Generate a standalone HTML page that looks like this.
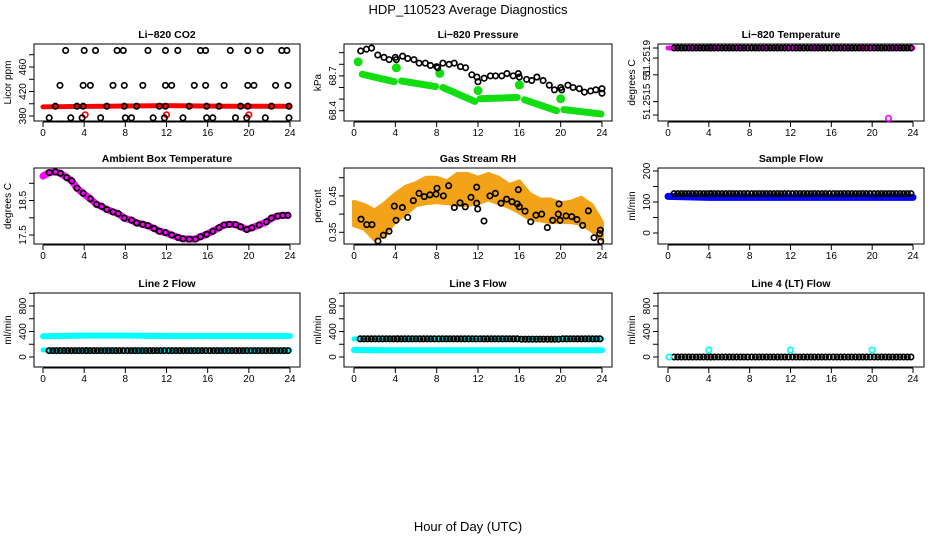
<!DOCTYPE html>
<html><head><meta charset="utf-8"><style>
html,body{margin:0;padding:0;background:#fff;}
svg{display:block;font-family:"Liberation Sans",Arial,sans-serif;}
</style></head><body>
<svg id="chart" width="936" height="540" viewBox="0 0 936 540" xmlns="http://www.w3.org/2000/svg">
<text x="468" y="14" font-size="13" text-anchor="middle">HDP_110523  Average Diagnostics</text>
<text x="468" y="531" font-size="13" text-anchor="middle">Hour of Day (UTC)</text>
</svg>
<script>
// ---------- data ----------
const xTicks = [0,4,8,12,16,20,24];
const blockStarts = [0,4,8,12,16,20];
const co2Hours = [2.2,4.0,5.1,7.2,7.8,10.2,11.9,13.1,15.3,15.8,18.2,19.9,21.1,23.2,23.7,
 1.65,3.9,4.6,6.8,7.9,9.7,11.9,12.5,14.7,15.8,17.6,19.9,20.5,22.6,23.8,
 1.2,3.3,3.9,6.2,7.9,9.1,11.3,11.9,14.2,15.9,17.1,19.2,19.9,22.2,23.9,
 0.6,2.7,3.8,5.6,8.0,8.6,10.7,11.8,13.6,15.9,16.5,18.7,19.8,21.6,23.9];
const co2Values = [487,487,487,487,487,487,487,487,487,487,487,487,487,487,487,
 430,430,430,430,430,430,430,430,430,430,430,430,430,430,430,
 396,396,396,396,396,396,396,396,396,396,396,396,396,396,396,
 377,377,377,377,377,377,377,377,377,377,377,377,377,377,377];
const co2RedHours = [0,6,12,18,24];
const co2RedValues = [395,396,397,396,396];
const co2RedPtHours = [4.1,12.0,20.0];
const co2RedPtValues = [382,382,382];
const presHours = [0.65,1.2,1.7,2.3,2.9,3.4,4.0,4.1,4.7,5.2,5.8,6.3,6.9,7.4,8.0,8.1,8.6,9.2,9.7,10.3,10.8,11.4,11.9,12.0,12.6,13.2,13.7,14.3,14.8,15.4,15.9,16.0,16.7,17.2,17.7,18.3,18.9,19.4,20.0,20.1,20.7,21.2,21.8,22.3,22.9,23.4,24.0,24.0];
const presValues = [68.915,68.93,68.94,68.88,68.86,68.84,68.86,68.84,68.87,68.85,68.84,68.81,68.81,68.79,68.78,68.77,68.81,68.80,68.81,68.78,68.77,68.71,68.69,68.65,68.68,68.70,68.70,68.70,68.72,68.70,68.72,68.69,68.67,68.66,68.69,68.66,68.62,68.58,68.60,68.58,68.62,68.60,68.59,68.56,68.57,68.58,68.59,68.55];
const greenSegStart = [0.8,4.6,8.6,12.2,16.5,20.3];
const greenSegEnd = [3.9,7.9,11.7,15.8,19.6,23.9];
const greenValStart = [68.714,68.656,68.600,68.503,68.494,68.409];
const greenValEnd = [68.650,68.608,68.480,68.514,68.400,68.372];
const greenBlobHours = [0.4,4.1,8.3,12.0,16.0,20.0];
const greenBlobValues = [68.821,68.770,68.722,68.574,68.622,68.503];
const t820Block = [51.2519,51.2519,51.2519,51.2519,51.2519,51.2519];
const t820OutlierHour = [21.6];
const t820OutlierValue = [51.25148];
const t820TickVals = [51.2519,51.25184,51.25174,51.25158,51.2515];
const t820TickLabels = ["","51.2519","51","51.2515",""];
const ambHours = [0.6,1.2,1.7,2.3,2.8,3.3,3.9,4.6,5.2,5.7,6.2,6.8,7.3,7.9,8.6,9.1,9.7,10.2,10.8,11.3,11.9,12.5,13.1,13.6,14.2,14.8,15.3,15.9,16.5,17.1,17.6,18.1,18.7,19.2,19.8,20.3,21.0,21.7,22.2,22.8,23.3,23.8];
const ambValues = [19.31,19.33,19.29,19.17,19.07,18.86,18.71,18.55,18.39,18.33,18.24,18.17,18.12,17.99,17.93,17.85,17.81,17.77,17.69,17.61,17.57,17.50,17.43,17.39,17.38,17.38,17.45,17.52,17.61,17.71,17.79,17.81,17.80,17.74,17.66,17.71,17.79,17.88,17.99,18.05,18.07,18.07];
const ambStart = [0,19.21];
const rhBandHours = [0,1,2,3,4,5,6,7,8,9,10,11,12,13,14,15,16,17,18,19,20,21,22,23,24];
const rhUpper = [0.434,0.425,0.41,0.43,0.455,0.475,0.485,0.50,0.50,0.49,0.51,0.51,0.50,0.51,0.50,0.48,0.49,0.455,0.44,0.44,0.43,0.434,0.445,0.425,0.378];
const rhLower = [0.369,0.36,0.33,0.345,0.38,0.40,0.425,0.43,0.433,0.43,0.425,0.425,0.43,0.44,0.43,0.42,0.405,0.387,0.383,0.378,0.378,0.378,0.373,0.355,0.33];
const rhHours = [0.68,1.23,1.74,2.32,2.84,3.39,3.9,4.07,4.68,5.2,5.74,6.29,6.8,7.35,7.94,8.03,8.65,9.16,9.71,10.26,10.77,11.32,11.87,11.87,11.97,12.58,13.16,13.68,14.23,14.77,15.29,15.8,15.9,16.0,16.55,17.1,17.61,18.16,18.71,19.23,19.77,19.84,19.94,20.52,21.07,21.58,22.13,22.68,23.23,23.78,23.84,23.88];
const rhValues = [0.386,0.371,0.371,0.326,0.342,0.353,0.422,0.383,0.418,0.391,0.437,0.457,0.448,0.453,0.455,0.471,0.45,0.478,0.418,0.431,0.42,0.446,0.474,0.43,0.414,0.381,0.45,0.457,0.43,0.441,0.434,0.428,0.467,0.42,0.408,0.379,0.397,0.40,0.363,0.383,0.40,0.428,0.383,0.395,0.393,0.385,0.369,0.409,0.335,0.346,0.356,0.325];
const sampleBlack = [127,127,127,127,127,127];
const sampleBlueHours = [0,4,8,12,16,20,24];
const sampleBlueValues = [118,115,115,115,115,115,115];
const line2Black = [100,100,100,100,100,100];
const line2CyanHigh = [325,335,335,330,330,330,330];
const line2CyanLow = [110,110,110,110,110,110,110];
const line3Black = [285,285,285,285,280,285];
const line3CyanHigh = [285,285,285,285,285,285,285];
const line3CyanLow = [110,105,105,105,105,105,105];
const line4Black = [0,0,0,0,0,0];
const line4CyanHours = [0.1,4.0,12.0,20.0];
const line4CyanValues = [0,110,110,110];
const flowTicks = [0,200,400,600,800,1000];
const flowLabels = ["0","","400","","800",""];

// ---------- layout ----------
const svg = document.getElementById('chart');
const NS = 'http://www.w3.org/2000/svg';
const cols = [{l:34,r:300,x0:43,x1:290},{l:344,r:612,x0:354,x1:602},{l:658,r:924,x0:668,x1:913}];
const rows = [{t:44,b:121},{t:168,b:244},{t:293,b:367}];
function mk(tag, attrs, parent){
  const e = document.createElementNS(NS, tag);
  for (const k in attrs) e.setAttribute(k, attrs[k]);
  (parent||svg).appendChild(e);
  return e;
}
function panel(ci, ri, title, ytitle, v0, y0, v1, y1, yticks, ylabels, name){
  const c = cols[ci], r = rows[ri];
  const g = mk('g', {});
  
  
  const P = {g, c, r,
    sx: h => c.x0 + (c.x1 - c.x0) * h / 24,
    sy: v => y0 + (v - v0) * (y1 - y0) / (v1 - v0)};
  const box = mk('rect', {x:c.l, y:r.t, width:c.r-c.l, height:r.b-r.t, fill:'none', stroke:'#000', 'stroke-width':1}, g);
  
  
  const tt = mk('text', {x:(c.l+c.r)/2, y:r.t-6, 'font-size':10.5, 'font-weight':'bold', 'text-anchor':'middle'}, g);
  tt.textContent = title;
  
  
  const xa = mk('g', {}, g);
  
  
  mk('line', {x1:P.sx(0), x2:P.sx(24), y1:r.b+1, y2:r.b+1, stroke:'#000'}, xa);
  xTicks.forEach(h => {
    mk('line', {x1:P.sx(h), x2:P.sx(h), y1:r.b+1, y2:r.b+6, stroke:'#000'}, xa);
    const lt = mk('text', {x:P.sx(h), y:r.b+15, 'font-size':10, 'text-anchor':'middle'}, xa);
    lt.textContent = h;
    
    
  });
  const ya = mk('g', {}, g);
  
  
  mk('line', {x1:c.l, x2:c.l, y1:P.sy(yticks[0]), y2:P.sy(yticks[yticks.length-1]), stroke:'#000'}, ya);
  yticks.forEach((v,i) => {
    const y = P.sy(v);
    mk('line', {x1:c.l-5, x2:c.l, y1:y, y2:y, stroke:'#000'}, ya);
    if (ylabels[i]) {
      const lt = mk('text', {x:c.l-8, y:y, 'font-size':10, 'text-anchor':'middle', transform:`rotate(-90 ${c.l-8} ${y})`}, ya);
      lt.textContent = ylabels[i];
      
      
    }
  });
  const yc = (r.t + r.b) / 2;
  const yt = mk('text', {x:c.l-23, y:yc, 'font-size':10, 'text-anchor':'middle', transform:`rotate(-90 ${c.l-23} ${yc})`}, g);
  yt.textContent = ytitle;
  
  
  return P;
}
function pt(P, h, v, color, name, fill){
  const e = mk('circle', {cx:P.sx(h), cy:P.sy(v), r:2.7, fill:fill||'none', stroke:color, 'stroke-width':1.7}, P.g);
  
  
  return e;
}
function line(P, hs, vs, color, w, name){
  const e = mk('polyline', {points:hs.map((h,i)=>P.sx(h)+','+P.sy(vs[i])).join(' '), fill:'none', stroke:color, 'stroke-width':w, 'stroke-linecap':'round', 'stroke-linejoin':'round'}, P.g);
  
  
  return e;
}
function denseRow(P, blockVals, color, name, startOffset){
  blockVals.forEach((v,bi) => {
    for (let k = 0; k < 11; k++) {
      const h = blockStarts[bi] + (bi===0 ? startOffset : 0.2) + k*0.36;
      if (h > 24) continue;
      pt(P, h, v, color, name);
    }
  });
}

let P = panel(0,0,'Li\u2212820 CO2','Licor ppm',380,116,460,67,[380,400,420,440,460,480],["380","","420","","460",""],'co2');
line(P, co2RedHours, co2RedValues, '#ff0000', 5, 'co2-red-series');
co2RedPtHours.forEach((h,i) => pt(P, h, co2RedPtValues[i], '#ff0000', 'co2-red-point'));
co2Hours.forEach((h,i) => pt(P, h, co2Values[i], '#000', 'co2-point'));

P = panel(1,0,'Li\u2212820 Pressure','kPa',68.4,110.7,68.9,52.7,[68.4,68.5,68.6,68.7,68.8,68.9],["68.4","","","68.7","",""],'pressure');
greenSegStart.forEach((s,i) => line(P, [s, greenSegEnd[i]], [greenValStart[i], greenValEnd[i]], '#11dd11', 7, 'pressure-green-segment'));
greenBlobHours.forEach((h,i) => {
  const e = mk('circle', {cx:P.sx(h), cy:P.sy(greenBlobValues[i]), r:4.5, fill:'#11dd11'}, P.g);
  
  
});
presHours.forEach((h,i) => pt(P, h, presValues[i], '#000', 'pressure-point'));

P = panel(2,0,'Li\u2212820 Temperature','degrees C',51.2515,115,51.2519,48,t820TickVals,t820TickLabels,'li820-temp');
line(P, [0,24], [t820Block[0], t820Block[5]], '#ff00ff', 5, 'li820-temp-magenta-series');
denseRow(P, t820Block, '#000', 'li820-temp-point', 0.6);
t820OutlierHour.forEach((h,i) => pt(P, h, t820OutlierValue[i], '#ff00ff', 'li820-temp-outlier'));

P = panel(0,1,'Ambient Box Temperature','degrees C',17.5,235,19.0,183.3,[17.5,18.0,18.5,19.0],["17.5","","18.5",""],'ambient-temp');
line(P, [ambStart[0]].concat(ambHours), [ambStart[1]].concat(ambValues), '#ff00ff', 7, 'ambient-temp-magenta-series');
ambHours.forEach((h,i) => pt(P, h, ambValues[i], '#000', 'ambient-temp-point'));

P = panel(1,1,'Gas Stream RH','percent',0.35,232.3,0.50,177.7,[0.35,0.40,0.45,0.50],["0.35","","0.45",""],'rh');
{
  const pts = rhBandHours.map((h,i)=>P.sx(h)+','+P.sy(rhUpper[i])).concat(rhBandHours.slice().reverse().map((h,j)=>{const i=rhBandHours.length-1-j; return P.sx(h)+','+P.sy(rhLower[i]);}));
  const band = mk('polygon', {points:pts.join(' '), fill:'#f2a318', stroke:'#f2a318', 'stroke-width':4, 'stroke-linejoin':'round'}, P.g);
  
  
}
rhHours.forEach((h,i) => pt(P, h, rhValues[i], '#000', 'rh-point'));

P = panel(2,1,'Sample Flow','ml/min',0,233,200,171,[0,50,100,150,200],["0","","100","","200"],'sample-flow');
line(P, sampleBlueHours, sampleBlueValues, '#0000ff', 7, 'sample-flow-blue-series');
denseRow(P, sampleBlack, '#000', 'sample-flow-point', 0.6);

P = panel(0,2,'Line 2 Flow','ml/min',0,357,800,306,flowTicks,flowLabels,'line2-flow');
line(P, sampleBlueHours, line2CyanHigh, '#00ffff', 6, 'line2-cyan-high');
line(P, sampleBlueHours, line2CyanLow, '#00ffff', 5, 'line2-cyan-low');
denseRow(P, line2Black, '#000', 'line2-point', 0.6);

P = panel(1,2,'Line 3 Flow','ml/min',0,357,800,306,flowTicks,flowLabels,'line3-flow');
line(P, sampleBlueHours, line3CyanLow, '#00ffff', 6, 'line3-cyan-low');
line(P, sampleBlueHours, line3CyanHigh, '#00ffff', 5, 'line3-cyan-high');
denseRow(P, line3Black, '#000', 'line3-point', 0.6);

P = panel(2,2,'Line 4 (LT) Flow','ml/min',0,357,800,306,flowTicks,flowLabels,'line4-flow');
denseRow(P, line4Black, '#000', 'line4-point', 0.6);
line4CyanHours.forEach((h,i) => pt(P, h, line4CyanValues[i], '#00ffff', 'line4-cyan-point'));
</script>
</body></html>
